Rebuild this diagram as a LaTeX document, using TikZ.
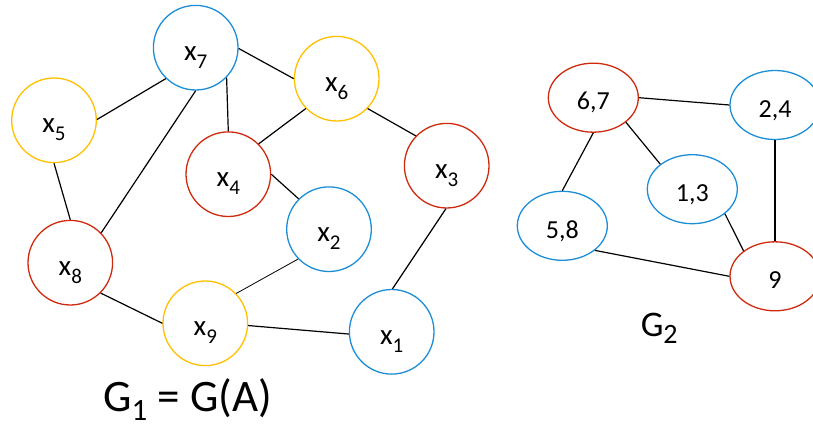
\documentclass[tikz,border=0pt]{standalone}
\usepackage{fontspec}
\setmainfont{Carlito}
\usetikzlibrary{shapes.geometric}
\definecolor{cblue}{HTML}{1C8ED8}
\definecolor{cyel}{HTML}{FFC000}
\definecolor{cred}{HTML}{D02A0E}
\newcommand{\xsub}[1]{x\raisebox{-8pt}{\fontsize{21}{21}\selectfont #1}}
\begin{document}
\begin{tikzpicture}[x=1pt,y=-1pt,
  vx/.style={circle,draw,line width=1.3pt,minimum size=84.6pt,inner sep=0pt,
    font=\fontsize{29}{31}\selectfont,text height=25pt,text depth=0pt},
  el/.style={ellipse,draw,line width=1.3pt,minimum width=90pt,minimum height=69pt,inner sep=0pt,
    font=\fontsize{26}{28}\selectfont,text height=24.6pt,text depth=0pt},
  edge/.style={line width=1.2pt},
  thinedge/.style={line width=0.8pt}]
\useasboundingbox (0,0) rectangle (813,425);
% G1
\node[vx,cblue,text=black] (x7) at (195.7,47.7) {\xsub{7}};
\node[vx,cyel,text=black] (x6) at (336.7,78.7) {\xsub{6}};
\node[vx,cyel,text=black] (x5) at (54,120.3) {\xsub{5}};
\node[vx,cred,text=black] (x4) at (228.3,174.2) {\xsub{4}};
\node[vx,cred,text=black] (x3) at (446.7,165.7) {\xsub{3}};
\node[vx,cblue,text=black] (x2) at (329,229.2) {\xsub{2}};
\node[vx,cred,text=black] (x8) at (70.3,262.7) {\xsub{8}};
\node[vx,cyel,text=black] (x9) at (205.3,323.3) {\xsub{9}};
\node[vx,cblue,text=black] (x1) at (391.7,331.8) {\xsub{1}};
\draw[edge] (x7.226) -- (x5.1);
\draw[edge] (x7.270) -- (x8.44);
\draw[edge] (x7.-44) -- (x4.90);
\draw[edge] (x7.-1) -- (x6.180);
\draw[edge] (x6.224.6) -- (x4.45);
\draw[edge] (x6.-44.6) -- (x3.136);
\draw[edge] (x4.0) -- (x2.135.5);
\draw[thinedge] (x2.224.5) -- (x9.44);
\draw[edge] (x5.270) -- (x8.90);
\draw[edge] (x8.-45) -- (x9.180);
\draw[edge] (x9.-3.6) -- (x1.183);
\draw[edge] (x1.89) -- (x3.269);
\node[font=\fontsize{45}{48}\selectfont,anchor=base] (g1) at (187.5,411)
  {G\raisebox{-9pt}{\fontsize{31}{31}\selectfont 1} = G(A)};
% G2
\node[el,cred,text=black] (a) at (593.3,97.7) {6,7};
\node[el,cblue,text=black] (b) at (775,105) {2,4};
\node[el,cblue,text=black] (c) at (692.3,189.2) {1,3};
\node[el,cblue,text=black] (d) at (562.3,225.8) {5,8};
\node[el,cred,text=black] (e) at (775,276.3) {9};
\draw[edge] (a.0) -- (b.180);
\draw[edge] (a.-37) -- (c.142.6);
\draw[edge] (a.-90) -- (d.90);
\draw[edge] (b.-90) -- (e.90);
\draw[edge] (c.-37.3) -- (e.141.6);
\draw[edge] (d.-37.9) -- (e.180);
\node[font=\fontsize{36}{40}\selectfont,anchor=base] (g2) at (659.2,336.7)
  {G\raisebox{-6.7pt}{\fontsize{28}{28}\selectfont 2}};
\end{tikzpicture}
\end{document}
